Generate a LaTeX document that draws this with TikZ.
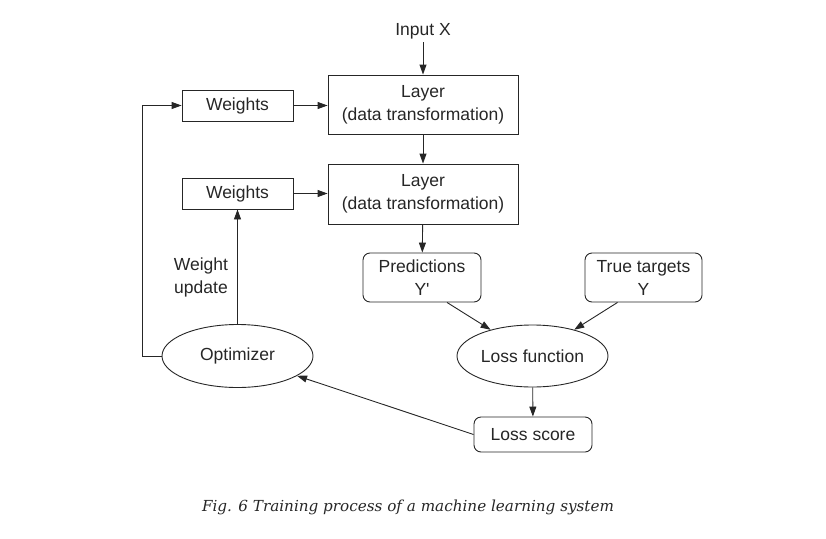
\documentclass[tikz,border=0pt]{standalone}
\usepackage{fontspec}
\setmainfont{Liberation Sans}
\newfontfamily\capfont{DejaVu Serif}
\newfontfamily\plainsans[Ligatures=NoCommon,Mapping=]{Liberation Sans}
\usetikzlibrary{arrows.meta,shapes.geometric}
\definecolor{ink}{HTML}{262626}
\tikzset{
  box/.style={draw=ink, line width=0.9pt, align=center, text=ink, inner sep=0pt,
    font=\fontsize{17.5}{23}\selectfont},
  rbox/.style={box, rounded corners=7pt},
  oval/.style={box, ellipse},
  arr/.style={draw=ink, line width=0.9pt, -{Triangle[length=10pt,width=7pt]}},
  lbl/.style={text=ink, align=center, font=\fontsize{17.5}{23}\selectfont}
}
\begin{document}
\begin{tikzpicture}[x=1pt,y=-1pt]
\useasboundingbox (0,0) rectangle (826,538);
\node[lbl] (inp) at (423,31) {Input X};
\node[box, minimum width=190pt, minimum height=59pt] (l1) at (423,104.5) {Layer\\(data transformation)};
\node[box, minimum width=190pt, minimum height=60pt] (l2) at (423,194) {Layer\\(data transformation)};
\node[box, minimum width=111pt, minimum height=31pt] (w1) at (237.5,105.5) {Weights};
\node[box, minimum width=111pt, minimum height=31pt] (w2) at (237.5,193.5) {Weights};
\node[rbox, minimum width=118pt, minimum height=49pt] (pred) at (422,277.5) {Predictions\\Y\textquotesingle};
\node[rbox, minimum width=117pt, minimum height=49pt] (tt) at (643.5,277.5) {True targets\\Y};
\node[oval, minimum width=151pt, minimum height=62pt] (lf) at (532.5,356) {Loss function};
\node[rbox, minimum width=118pt, minimum height=35pt] (ls) at (533,434.5) {Loss score};
\node[oval, minimum width=151pt, minimum height=63pt] (opt) at (237.5,356) {Optimizer};
\node[lbl] (wu) at (201,277) {Weight\\update};
\coordinate (lp) at (142,356);
\node[text=ink, font=\capfont\itshape\fontsize{15.2}{18}\selectfont] (cap) at (408,507) {Fig. 6 Training process of a machine learning system};

\draw[arr] (inp) -- (l1);
\draw[arr] (l1) -- (l2);
\draw[arr] (w1.east) -- (w1.east -| l1.west);
\draw[arr] (w2.east) -- (w2.east -| l2.west);
\draw[arr] (opt.west) -- (lp) |- (w1.west);
\draw[arr] (opt.north) -- (w2.south);
\draw[arr] (l2) -- (pred);
\draw[arr] ([xshift=25pt]pred.south) -- (lf);
\draw[arr] ([xshift=-26pt]tt.south) -- (lf);
\draw[arr] (lf) -- (ls);
\draw[arr] (ls.west) -- (opt);
\end{tikzpicture}
\end{document}
